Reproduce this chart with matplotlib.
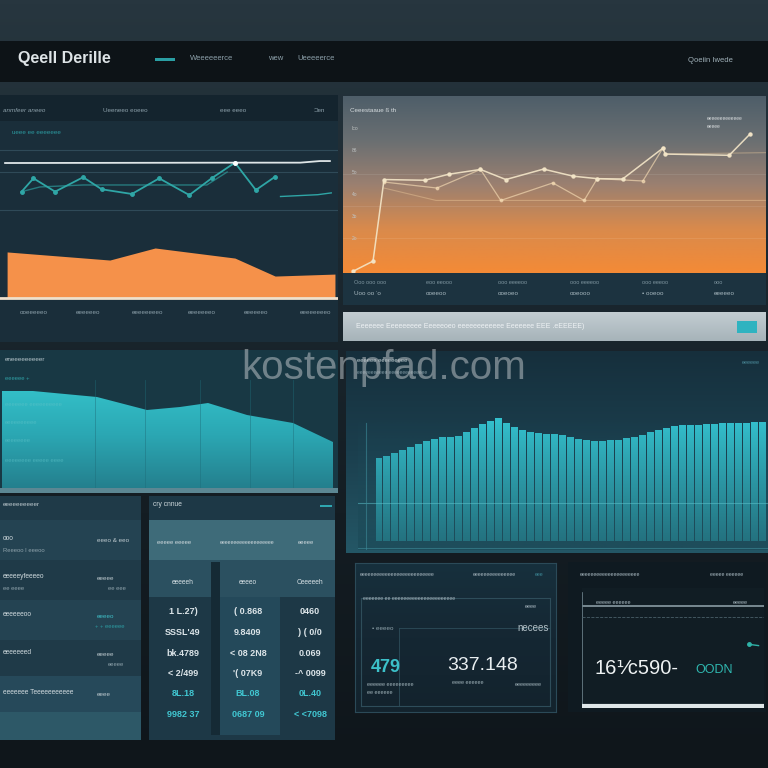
import numpy as np
import matplotlib.pyplot as plt
from matplotlib.colors import LinearSegmentedColormap, to_rgb

W = H = 768

# ---------------- data ----------------
# top-left panel: teal zigzag, faint trend, white reference line, orange area
pulse_x = [6.4, 9.9, 16.3, 24.6, 30.1, 39.0, 47.1, 56.0, 62.6, 69.5, 75.7, 81.4]
pulse_y = [60.2, 67.6, 60.2, 68.2, 61.5, 58.9, 67.6, 58.3, 67.6, 76.3, 61.1, 68.5]
trend_x = [6.4, 11.8, 24.6, 46.7, 61.2, 67.2]
trend_y = [60.2, 62.8, 63.9, 63.9, 63.9, 71.1]
ref_x = [1.5, 69.5, 88.8, 94.7, 97.6]
ref_y = [76.1, 76.3, 76.3, 77.2, 77.2]
volume_x = [2.1, 32.5, 45.9, 69.5, 81.4, 99.1]
volume_y = [26.7, 22.2, 28.9, 23.3, 13.3, 14.4]
tl_labels = ["ooeeeeeo", "eeeeeeo", "eeeeeeeeo", "eeeeeeeo", "eeeeeeo", "eeeeeeeeo"]

# top-right panel: two light lines over sunset gradient
main_x = [2.4, 7.1, 9.7, 19.4, 25.0, 32.5, 38.5, 47.4, 54.4, 60.1, 66.1, 75.6, 76.2, 91.3, 96.3]
main_y = [1.0, 6.7, 52.8, 52.4, 55.8, 58.5, 52.8, 58.7, 54.7, 53.3, 53.1, 70.5, 67.2, 66.5, 78.7]
alt_x = [9.7, 22.2, 32.5, 37.3, 49.6, 57.0, 60.1, 70.9, 75.6]
alt_y = [51.4, 48.0, 58.5, 41.0, 50.9, 41.0, 53.3, 52.0, 70.5]
tr_ticks = ["Ico", "86", "5o", "4o", "3o", "2o"]
tr_stats = [("Ooo ooo ooo", "Uoo oo ‘o"), ("eoo eeooo", "ooeeoo"), ("ooo eeeeoo", "ooeoeo"),
            ("ooo eeeeoo", "ooeooo"), ("ooo eeeoo", "• ooeoo"), ("ooo", "eeeeeo")]

# middle-left teal area
wave_x = [2, 33, 97, 147, 180, 208, 247, 293, 333]
wave_y = [99, 99, 93, 80, 83, 87, 75, 67, 48]

# middle-right bar chart
bar_h = [87, 90, 93, 96, 99, 102, 105, 108, 110, 110, 111, 115, 119, 123, 127, 130, 125,
         120, 117, 115, 114, 113, 113, 112, 110, 108, 106, 105, 105, 106, 107, 109, 110,
         112, 115, 117, 119, 121, 122, 122, 122, 123, 123, 124, 124, 125, 125, 126, 126]

# bottom-left list and table
list_rows = [("ooo", "Reeeoo I eeeoo", "eeeo & eeo"), ("eeeeeyfeeeeo", "ee eeee", "eeeee"),
             ("eeeeeeoo", "", "eeeeo"), ("eeeeeeed", "", "eeeee"),
             ("eeeeeee Teeeeeeeeeee", "", "eeee")]
table_head = ["eeeeeh", "eeeeo", "Ceeeeeh"]
table_rows = [["1 L.27)", "( 0.868", "0460"],
              ["SSSL'49", "9.8409", ") ( 0/0"],
              ["bk.4789", "< 08 2N8", "0.069"],
              ["< 2/499", "'( 07K9", "-^ 0099"],
              ["8L.18", "BL.08", "0L.40"],
              ["9982 37", "0687 09", "< <7098"]]

# KPI cards
kpi_a, kpi_b = "479", "337.148"
kpi_c, kpi_d = "16⅟c590-", "OODN"

# ---------------- figure ----------------
fig = plt.figure(figsize=(7.68, 7.68), dpi=100)


def box(x0, y0, x1, y1, color=None, z=1):
    ax = fig.add_axes([x0 / W, 1 - y1 / H, (x1 - x0) / W, (y1 - y0) / H], zorder=z)
    ax.set_xticks([])
    ax.set_yticks([])
    for s in ax.spines.values():
        s.set_visible(False)
    ax.set_facecolor(color if color else "none")
    return ax


def txt(x, y, s, size=4.5, color="#8da1ab", **kw):
    kw.setdefault("va", "center")
    fig.text(x / W, 1 - y / H, s, fontsize=size, color=color,
             family=["Liberation Sans", "DejaVu Sans"], zorder=20, **kw)


def vgrad(ax, colors, extent, alpha=1.0):
    cmap = LinearSegmentedColormap.from_list("g", colors)
    g = np.linspace(0, 1, 256).reshape(-1, 1)
    ax.imshow(g, cmap=cmap, extent=extent, aspect="auto", origin="upper",
              alpha=alpha, zorder=0)


# page background
bg = box(0, 0, W, H, z=0)
vgrad(bg, ["#27363f", "#1b2830", "#141d23", "#0f161b"], [0, 1, 0, 1])
bg.set_xlim(0, 1)
bg.set_ylim(0, 1)

# header bar
hb = box(0, 41, W, 82, "#0d1317")
txt(18, 58, "Qeell Derille", size=11.5, color="#dde3e6", weight="semibold")
hb2 = box(155, 58, 175, 61, "#2a9ea3", z=2)
txt(190, 59, "Weeeeeerce", size=5.5)
txt(268, 59, "wew", size=5.5)
txt(297, 59, "Ueeeeerce", size=5.5)
txt(688, 60, "Qoeiin Iwede", size=5.5, color="#9fb0b8")

# ---- top-left panel ----
p1 = box(0, 95, 338, 342, "#1a2e3a")
box(0, 95, 338, 121, "#14242e")
txt(3, 110, "anmfeer aneeo", size=4.5, style="italic")
txt(103, 110, "Ueeneeo eoeeo", size=4.5)
txt(220, 110, "eee eeeo", size=4.5)
txt(314, 110, "Ɔen", size=4.5)
txt(12, 133, "ueee ee eeeeeee", size=4.5, color="#2c9aa0")
c1 = box(0, 120, 338, 300)
c1.set_xlim(0, 100)
c1.set_ylim(0, 100)
for gy in [83.3, 71.1, 50.0]:
    c1.axhline(gy, color="#2f4a58", lw=0.8, zorder=1)
c1.plot(trend_x, trend_y, color="#2a8d8f", lw=1.0, alpha=0.8, zorder=2)
c1.plot(pulse_x, pulse_y, color="#2fa6a6", lw=1.3, marker="o", ms=2.5, zorder=3)
c1.plot(ref_x, ref_y, color="#dfe6e8", lw=1.3, zorder=4)
c1.plot(ref_x[1], ref_y[1], "o", color="#ffffff", ms=2.5, zorder=5)
c1.plot([83, 94, 98], [57.5, 58.5, 59.5], color="#2fa6a6", lw=1.0, zorder=3)
c1.fill_between(volume_x, volume_y, 1.2, color="#f5914a", lw=0, zorder=2)
c1.plot([0, 100], [1.2, 1.2], color="#efe0cc", lw=2, zorder=3)
for i, lab in enumerate(tl_labels):
    txt(20 + i * 56, 313, lab, size=4.5)

# ---- top-right panel ----
p2 = box(343, 96, 766, 273)
vgrad(p2, ["#4e5e69", "#6a6f72", "#9b8070", "#d98a4c", "#f48a36"], [0, 100, 0, 100])
p2.set_xlim(0, 100)
p2.set_ylim(0, 100)
for gy in [20, 38, 56]:
    p2.axhline(gy, color="#ffffff", lw=0.5, alpha=0.12)
p2.plot(alt_x, alt_y, color="#f6dcb4", lw=0.9, alpha=0.65, marker="o", ms=1.8, zorder=3)
p2.plot(main_x, main_y, color="#f4e6c8", lw=1.1, alpha=0.9, marker="o", ms=2.2, zorder=4)
p2.plot([9.7, 22, 40, 100], [48, 41, 41, 41], color="#f3d0a0", lw=0.8, alpha=0.4)
p2.plot([76.2, 100], [67.2, 68], color="#f3d0a0", lw=0.8, alpha=0.4)
txt(350, 111, "Ceeestaaue ß th", size=4.5, color="#d6dcdf")
for i, t in enumerate(tr_ticks):
    txt(352, 129 + i * 22, t, size=3.5, color="#c0c4c4")
txt(707, 119, "eeeeeeeeeeeee", size=3.5, color="#d8dcde")
txt(707, 127, "eeeee", size=3.5, color="#d8dcde")
s2 = box(343, 273, 766, 305, "#1c3340")
for i, (a, b) in enumerate(tr_stats):
    txt(354 + i * 72, 283, a, size=4, color="#7f96a0")
    txt(354 + i * 72, 293, b, size=4.5, color="#a8b9c0")
lb = box(343, 312, 766, 341)
vgrad(lb, ["#c3cdd2", "#a6b3b9"], [0, 1, 0, 1])
lb.set_xlim(0, 1)
lb.set_ylim(0, 1)
txt(356, 327, "Eeeeeee Eeeeeeeee Eeeeeoeo eeeeeeeeeeee Eeeeeee EEE .eEEEEE)", size=5, color="#eef2f4")
btn = box(737, 321, 757, 333, "#2fb3c0", z=3)

# ---- middle-left teal area ----
p3 = box(0, 350, 338, 492, "#183844")
c3 = box(0, 380, 338, 490)
c3.set_xlim(0, 338)
c3.set_ylim(0, 110)
poly = c3.fill_between(wave_x, wave_y, 0, color="none", lw=0)
grad3 = LinearSegmentedColormap.from_list("t3", ["#35c4cc", "#2ba7b3", "#247e8c"])
im3 = c3.imshow(np.linspace(1, 0, 256).reshape(-1, 1), cmap=grad3.reversed(),
                extent=[0, 338, 0, 110], aspect="auto", origin="upper")
im3.set_clip_path(poly.get_paths()[0], transform=c3.transData)
for vx in [95, 145, 200, 250, 293]:
    c3.axvline(vx, color="#1d6b78", lw=0.6, alpha=0.5)
txt(5, 359, "eneeeeeeeeer", size=4.5, color="#b7c6cc")
txt(5, 378, "eeeeee +", size=4.2, color="#2f9ea4")
txt(5, 405, "eeeeeee eeeeeeeeee", size=4.2, color="#5fc4c9", alpha=0.6)
txt(5, 422, "eeeeeeeeee", size=4.2, color="#5fc4c9", alpha=0.6)
txt(5, 440, "eeeeeeee", size=4.2, color="#5fc4c9", alpha=0.6)
txt(5, 460, "eeeeeeee eeeee eeee", size=4.2, color="#5fc4c9", alpha=0.6)
sep = box(0, 488, 338, 493, "#5c8793")

# ---- middle-right bar chart ----
p4 = box(346, 351, 768, 553, "#193847")
vgrad(p4, ["#162f3c", "#1b3f4e", "#245766"], [0, 1, 0, 1])
p4.set_xlim(0, 1)
p4.set_ylim(0, 1)
c4 = box(358, 380, 768, 550)
c4.bar(np.arange(len(bar_h)), bar_h, width=0.82, color="#35c6d3", zorder=2)
shade = np.zeros((256, 1, 4))
shade[..., :3] = to_rgb("#1c4a58")
shade[:, 0, 3] = np.linspace(0.0, 0.7, 256) ** 0.9
c4.imshow(shade, extent=[-2.6, len(bar_h) - 0.3, -10, 135], aspect="auto",
          origin="upper", zorder=3)
c4.set_xlim(-2.6, len(bar_h) - 0.3)
c4.set_ylim(-10, 170)
c4.axhline(40, color="#5fc6d0", lw=0.8, alpha=0.5, zorder=4)
c4.axvline(-1.6, ymax=0.75, color="#3d8a98", lw=0.8, alpha=0.6, zorder=4)
c4.axhline(-8, color="#3d8a98", lw=0.8, alpha=0.6, zorder=4)
txt(357, 360, "eeeeee eeeeeeeee", size=4.2, color="#c5d2d7")
txt(357, 373, "eeeeeeeeeee eeeeeeeeeeeeee", size=3.5, color="#7f98a2")
txt(742, 362, "eeeeee", size=4, color="#4a8a99")

# ---- bottom-left list ----
p5 = box(0, 496, 141, 740, "#1f3a48")
box(0, 520, 141, 560, "#244352")
box(0, 600, 141, 640, "#244352")
box(0, 676, 141, 712, "#26495a")
box(0, 712, 141, 740, "#2d5867")
txt(3, 505, "eeeeeeeeeer", size=4.5, color="#c0ccd1")
row_y = [538, 576, 615, 653, 692]
for (a, b, c), ry in zip(list_rows, row_y):
    txt(3, ry, a, size=4.8, color="#d0dade")
    if b:
        txt(3, ry + 12, b, size=4.2, color="#8ea2ab")
    txt(97, ry + 2, c, size=4.5, color="#3fc0c8" if ry == 615 else "#bfcbd0")
txt(95, 626, "+ + eeeeee", size=4.2, color="#2c9aa0")
txt(108, 588, "ee eee", size=4.2, color="#8ea2ab")
txt(108, 665, "eeeee", size=4.2, color="#8ea2ab")

# ---- bottom table ----
p6 = box(149, 496, 335, 740, "#1d3846")
box(149, 520, 335, 560, "#3e6b79")
box(149, 560, 335, 597, "#2b5060")
box(211, 562, 220, 735, "#152a35")
box(220, 597, 280, 735, "#24495a")
txt(153, 505, "cry cnnue", size=4.8, color="#d0dade")
box(320, 505, 332, 507, "#2fa6b0", z=3)
txt(157, 542, "eeeee eeeee", size=4.2, color="#d0dade")
txt(220, 542, "eeeeeeeeeeeeeeeeeee", size=3.8, color="#d0dade")
txt(298, 542, "eeeee", size=4.2, color="#d0dade")
col_x = [183, 248, 310]
for cx, h in zip(col_x, table_head):
    txt(cx, 583, h, size=4.8, color="#d8e2e6", ha="center")
for ri, row in enumerate(table_rows):
    ry = 612 + ri * 20.5
    color = "#41c7d2" if ri >= 4 else "#dbe4e8"
    for cx, v in zip(col_x, row):
        txt(cx, ry, v, size=6.5, color=color, ha="center", weight="bold")

# ---- KPI card 1 ----
k1 = box(355, 563, 556, 712, "#142530")
vgrad(k1, ["#17303d", "#152733", "#13232d"], [0, 1, 0, 1])
k1.set_xlim(0, 1)
k1.set_ylim(0, 1)
for s in k1.spines.values():
    s.set_visible(True)
    s.set_color("#2b4a58")
kin = box(361, 598, 550, 706)
kin.set_xlim(0, 1)
kin.set_ylim(0, 1)
for s in kin.spines.values():
    s.set_visible(True)
    s.set_color("#2e4d5a")
    s.set_linewidth(0.8)
kin.plot([0.2, 0.2], [0, 0.72], color="#2e4d5a", lw=0.6)
kin.plot([0.2, 1.0], [0.72, 0.72], color="#2e4d5a", lw=0.6)
txt(360, 575, "eeeeeeeeeeeeeeeeeeeeeeeeee", size=3.8, color="#a8b8c0")
txt(473, 575, "eeeeeeeeeeeeeee", size=3.8, color="#a8b8c0")
txt(535, 575, "eee", size=3.8, color="#3d8a98")
txt(363, 599, "eeeeeee ee eeeeeeeeeeeeeeeeeeeeee", size=3.8, color="#a8b8c0")
txt(525, 606, "eeee", size=4, color="#a8b8c0")
txt(372, 628, "• eeeeo", size=4.5, color="#8fa3ab")
txt(517, 628, "necees", size=7, color="#b6c4ca")
txt(371, 668, kpi_a, size=13, color="#3cc0c8", weight="bold")
txt(447, 665, kpi_b, size=14, color="#e8eef0")
txt(367, 684, "eeeeee eeeeeeeee", size=4, color="#9fb1b8")
txt(367, 692, "ee eeeeee", size=4, color="#9fb1b8")
txt(452, 683, "eeee eeeeee", size=4, color="#9fb1b8")
txt(515, 684, "eeeeeeeee", size=4, color="#9fb1b8")

# ---- KPI card 2 ----
k2 = box(568, 562, 766, 712, "#0f1a21")
k2.set_xlim(0, 1)
k2.set_ylim(0, 1)
kin2 = box(582, 588, 764, 708, "#111d24")
kin2.set_xlim(0, 1)
kin2.set_ylim(0, 1)
kin2.plot([0.0, 1.0], [0.85, 0.85], color="#8a9ca4", lw=1.2)
kin2.plot([0.0, 0.0], [0, 0.96], color="#6b7f88", lw=1.2)
kin2.plot([0.0, 1.0], [0.02, 0.02], color="#dfe6e8", lw=3)
kin2.plot([0.0, 0.08, 0.3, 0.6, 0.9, 1.0], [0.76] * 6, color="#4a5f69", lw=0.6, ls="--")
kin2.plot([0.92], [0.53], "o", color="#2fb3a8", ms=2.5)
kin2.plot([0.92, 0.97], [0.53, 0.52], color="#2fb3a8", lw=1)
txt(580, 575, "eeeeeeeeeeeeeeeeeeeee", size=3.8, color="#a8b8c0")
txt(710, 575, "eeeee eeeeee", size=3.8, color="#a8b8c0")
txt(596, 602, "eeeee eeeeee", size=4, color="#a8b8c0")
txt(733, 602, "eeeee", size=4, color="#a8b8c0")
txt(594, 668, kpi_c, size=14.5, color="#eef2f3")
txt(695, 670, kpi_d, size=9, color="#2fb8b0")

# ---- watermark ----
txt(384, 368, "kostenpfad.com", size=29, color="#b9c0c4", ha="center", alpha=0.55)

fig.savefig("out.png", dpi=100)
plt.close(fig)
